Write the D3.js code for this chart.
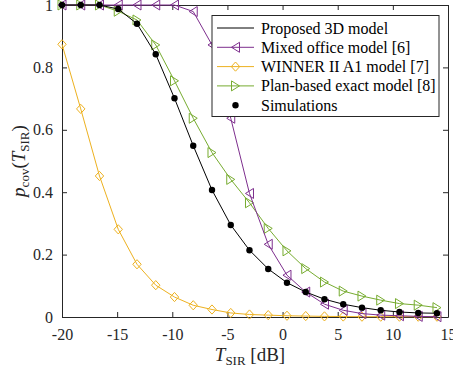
<!DOCTYPE html>
<html><head><meta charset="utf-8">
<script src="https://cdn.jsdelivr.net/npm/d3@7"></script>
<style>body{margin:0;background:#fff}svg{display:block}text{font-family:"Liberation Serif","Times New Roman",serif}</style>
</head><body>
<svg id="c" width="453" height="375"></svg>
<script>
const xValues = [-20,-18.3,-16.6,-14.9,-13.2,-11.5,-9.8,-8.1,-6.4,-4.7,-3.0,-1.3,0.4,2.1,3.8,5.5,7.2,8.9,10.6,12.3,14.0];
const proposed = [1,1,1,0.987,0.94,0.842,0.701,0.549,0.407,0.295,0.214,0.154,0.110,0.080,0.057,0.041,0.030,0.0215,0.016,0.013,0.012];
const simulations = [1,1,1,0.987,0.94,0.842,0.701,0.549,0.407,0.295,0.214,0.154,0.110,0.080,0.057,0.041,0.030,0.0215,0.016,0.013,0.012];
const mixedOffice = [1,1,1,1,1,1,1,0.979,0.872,0.637,0.396,0.233,0.134,0.080,0.041,0.0215,0.011,0.006,0.004,0.002,0.001];
const winner = [0.874,0.667,0.452,0.281,0.169,0.102,0.064,0.0376,0.024,0.013,0.008,0.006,0.004,0.003,0.002,0.0015,0.001,0.001,0.001,0.001,0.001];
const planBased = [1,1,1,0.98,0.952,0.872,0.757,0.637,0.527,0.441,0.366,0.284,0.212,0.155,0.112,0.083,0.067,0.054,0.043,0.038,0.030];
const xTicks = [-20,-15,-10,-5,0,5,10,15];
const yTicks = [0,0.2,0.4,0.6,0.8,1];
const legendLabels = ["Proposed 3D model","Mixed office model [6]","WINNER II A1 model [7]","Plan-based exact model [8]","Simulations"];

const svg = d3.select("#c");
const L = 62, R = 448, T = 5, B = 317;
const x = d3.scaleLinear().domain([-20,15]).range([L,R]);
const y = d3.scaleLinear().domain([0,1]).range([B,T]);
const axisColor = "#262626";
const serif = '"Liberation Serif","Times New Roman",serif';

// axes
const gx = svg.append("g").attr("transform",`translate(0,${B})`)
  .call(d3.axisBottom(x).tickValues(xTicks).tickFormat(d=>String(d)).tickSizeInner(-5).tickSizeOuter(0).tickPadding(12));
const gxt = svg.append("g").attr("transform",`translate(0,${T})`)
  .call(d3.axisTop(x).tickValues(xTicks).tickFormat("").tickSizeInner(-5).tickSizeOuter(0));
const gy = svg.append("g").attr("transform",`translate(${L},0)`)
  .call(d3.axisLeft(y).tickValues(yTicks).tickFormat(d=>String(d)).tickSizeInner(-5).tickSizeOuter(0).tickPadding(9));
const gyr = svg.append("g").attr("transform",`translate(${R},0)`)
  .call(d3.axisRight(y).tickValues(yTicks).tickFormat("").tickSizeInner(-5).tickSizeOuter(0));
[gx,gxt,gy,gyr].forEach(g=>{
  g.attr("font-family",serif);
  g.selectAll("path").attr("stroke",axisColor).attr("stroke-width",1);
  g.selectAll("line").attr("stroke",axisColor).attr("stroke-width",1);
  g.selectAll("text").attr("fill",axisColor).style("font-size","16px").style("font-family",serif);
});

const line = d3.line().x((d,i)=>x(xValues[i])).y(d=>y(d));
const plot = svg.append("g");

function triPath(dir){ // dir: -1 left, 1 right
  const w = 4, h = 5;
  return dir<0 ? `M${-w},0L${w},${-h}L${w},${h}Z` : `M${w},0L${-w},${-h}L${-w},${h}Z`;
}
function diamondPath(){return `M0,-4.6L4.2,0L0,4.6L-4.2,0Z`;}

const series = [
  {vals: winner, color:"#EDB120", marker:"diamond"},
  {vals: planBased, color:"#77AC30", marker:"right"},
  {vals: mixedOffice, color:"#7E2F8E", marker:"left"},
  {vals: proposed, color:"#000000", marker:null},
];
series.forEach(s=>{
  plot.append("path").datum(s.vals).attr("d",line).attr("fill","none").attr("stroke",s.color).attr("stroke-width",1);
  if(s.marker){
    plot.append("g").selectAll("path").data(s.vals).join("path")
      .attr("transform",(d,i)=>`translate(${x(xValues[i])},${y(d)})`)
      .attr("d", s.marker==="diamond"?diamondPath():triPath(s.marker==="left"?-1:1))
      .attr("fill","none").attr("stroke",s.color).attr("stroke-width",1);
  }
});
plot.append("g").selectAll("circle").data(simulations).join("circle")
  .attr("cx",(d,i)=>x(xValues[i])).attr("cy",d=>y(d)).attr("r",3.2).attr("fill","#000");

// legend
const lg = svg.append("g");
const lx0=212, ly0=15.5, lw=227, lh=101;
lg.append("rect").attr("x",lx0).attr("y",ly0).attr("width",lw).attr("height",lh).attr("fill","#fff").attr("stroke",axisColor).attr("stroke-width",1);
const legItems = [
  {color:"#000", marker:"line"},
  {color:"#7E2F8E", marker:"left"},
  {color:"#EDB120", marker:"diamond"},
  {color:"#77AC30", marker:"right"},
  {color:"#000", marker:"dot"},
];
legItems.forEach((it,i)=>{
  const yy = 28 + i*19.3;
  const g = lg.append("g");
  if(it.marker!=="dot") g.append("line").attr("x1",217).attr("x2",254).attr("y1",yy).attr("y2",yy).attr("stroke",it.color).attr("stroke-width",1);
  if(it.marker==="left"||it.marker==="right") g.append("path").attr("transform",`translate(235.5,${yy})`).attr("d",triPath(it.marker==="left"?-1:1)).attr("fill","none").attr("stroke",it.color);
  if(it.marker==="diamond") g.append("path").attr("transform",`translate(235.5,${yy})`).attr("d",diamondPath()).attr("fill","none").attr("stroke",it.color);
  if(it.marker==="dot") g.append("circle").attr("cx",235.5).attr("cy",yy).attr("r",3.2).attr("fill","#000");
  g.append("text").attr("x",261).attr("y",yy+5.5).style("font-size","16px").attr("fill","#000").text(legendLabels[i]);
});

// x label
const xl = svg.append("text").attr("x",250).attr("y",361).attr("text-anchor","middle").attr("fill",axisColor).style("font-size","19px");
xl.append("tspan").style("font-style","italic").text("T");
xl.append("tspan").attr("dy",4).style("font-size","13px").text("SIR");
xl.append("tspan").attr("dy",-4).text(" [dB]");

// y label
const yl = svg.append("text").attr("transform","translate(25,161) rotate(-90)").attr("text-anchor","middle").attr("fill",axisColor).style("font-size","19px");
yl.append("tspan").style("font-style","italic").text("p");
yl.append("tspan").attr("dy",4).style("font-size","13px").text("cov");
yl.append("tspan").attr("dy",-4).text("(");
yl.append("tspan").style("font-style","italic").text("T");
yl.append("tspan").attr("dy",4).style("font-size","13px").text("SIR");
yl.append("tspan").attr("dy",-4).text(")");
</script>
</body></html>
